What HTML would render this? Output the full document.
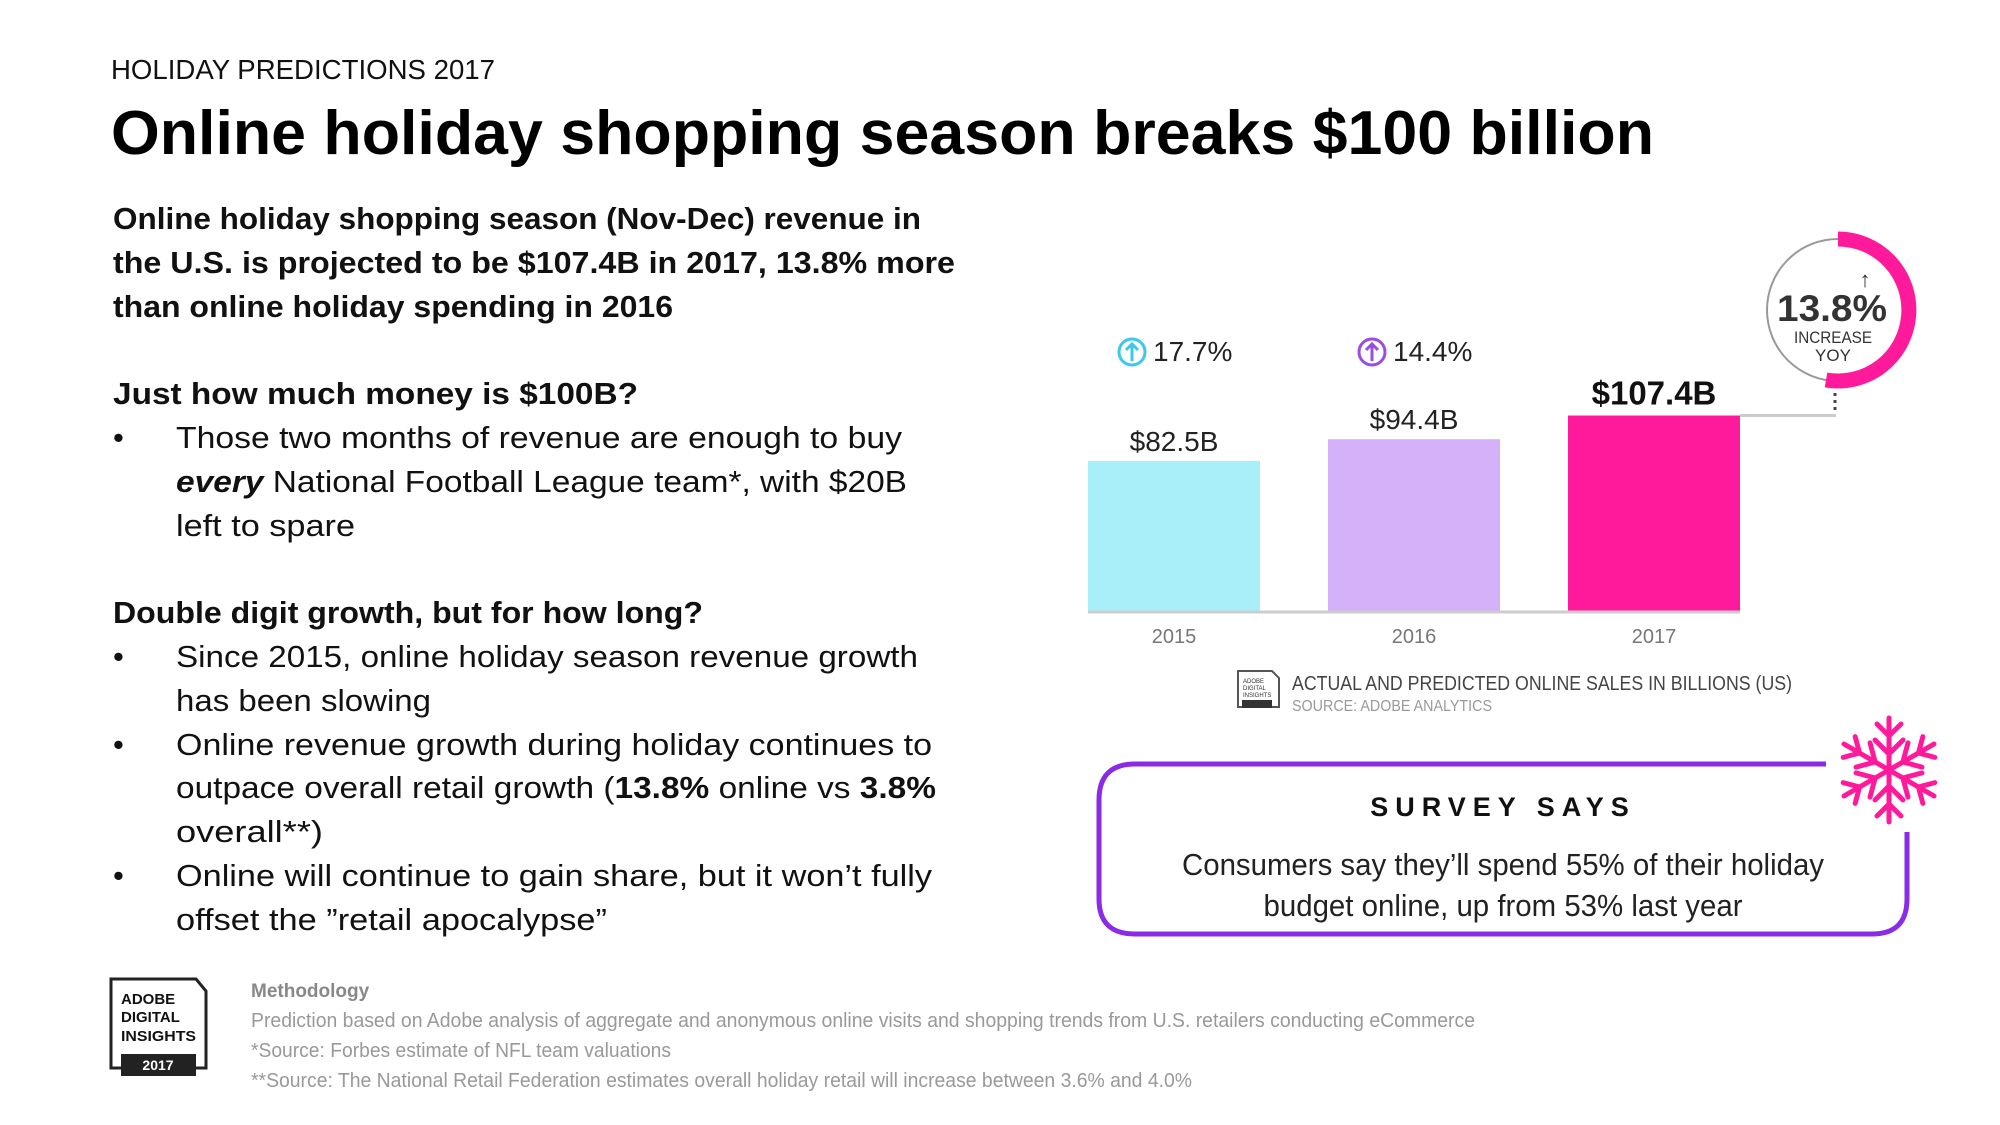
<!DOCTYPE html>
<html><head><meta charset="utf-8"><style>
html,body{margin:0;padding:0;background:#fff;}
svg{display:block;}
text{font-family:"Liberation Sans",sans-serif;}
</style></head><body>
<svg id="page" width="2000" height="1125" viewBox="0 0 2000 1125" xmlns="http://www.w3.org/2000/svg">
<rect width="2000" height="1125" fill="#fff"/>
<text x="111" y="79" font-size="28" fill="#111" textLength="384" lengthAdjust="spacingAndGlyphs">HOLIDAY PREDICTIONS 2017</text>
<text x="111" y="154" font-size="62" font-weight="bold" fill="#000" textLength="1543" lengthAdjust="spacingAndGlyphs">Online holiday shopping season breaks $100 billion</text>

<g font-size="31" fill="#111">
<text x="113" y="229" font-weight="bold" textLength="808" lengthAdjust="spacingAndGlyphs">Online holiday shopping season (Nov-Dec) revenue in</text>
<text x="113" y="273" font-weight="bold" textLength="842" lengthAdjust="spacingAndGlyphs">the U.S. is projected to be $107.4B in 2017, 13.8% more</text>
<text x="113" y="317" font-weight="bold" textLength="560" lengthAdjust="spacingAndGlyphs">than online holiday spending in 2016</text>
<text x="113" y="404" font-weight="bold" textLength="525" lengthAdjust="spacingAndGlyphs">Just how much money is $100B?</text>
<text x="113" y="448">•</text>
<text x="176" y="448" textLength="726" lengthAdjust="spacingAndGlyphs">Those two months of revenue are enough to buy</text>
<text x="176" y="492" textLength="731" lengthAdjust="spacingAndGlyphs"><tspan font-weight="bold" font-style="italic">every</tspan> National Football League team*, with $20B</text>
<text x="176" y="536" textLength="179" lengthAdjust="spacingAndGlyphs">left to spare</text>
<text x="113" y="623" font-weight="bold" textLength="590" lengthAdjust="spacingAndGlyphs">Double digit growth, but for how long?</text>
<text x="113" y="667">•</text>
<text x="176" y="667" textLength="742" lengthAdjust="spacingAndGlyphs">Since 2015, online holiday season revenue growth</text>
<text x="176" y="711" textLength="255" lengthAdjust="spacingAndGlyphs">has been slowing</text>
<text x="113" y="755">•</text>
<text x="176" y="755" textLength="756" lengthAdjust="spacingAndGlyphs">Online revenue growth during holiday continues to</text>
<text x="176" y="798" textLength="760" lengthAdjust="spacingAndGlyphs">outpace overall retail growth (<tspan font-weight="bold">13.8%</tspan> online vs <tspan font-weight="bold">3.8%</tspan></text>
<text x="176" y="842" textLength="147" lengthAdjust="spacingAndGlyphs">overall**)</text>
<text x="113" y="886">•</text>
<text x="176" y="886" textLength="756" lengthAdjust="spacingAndGlyphs">Online will continue to gain share, but it won’t fully</text>
<text x="176" y="930" textLength="431" lengthAdjust="spacingAndGlyphs">offset the ”retail apocalypse”</text>
</g>

<g id="chart"></g>

<!-- donut -->
<g>
<circle cx="1838" cy="310" r="71" fill="none" stroke="#999" stroke-width="2"/>
<path d="M1838 239 A71 71 0 1 1 1826 380" fill="none" stroke="#ff1a9c" stroke-width="15" transform="translate(0,0)"/>
<text x="1865" y="287" font-size="22" text-anchor="middle" fill="#333">↑</text>
<text x="1832" y="321" font-size="37" font-weight="bold" text-anchor="middle" fill="#333" textLength="110" lengthAdjust="spacingAndGlyphs">13.8%</text>
<text x="1833" y="343" font-size="17" text-anchor="middle" fill="#333" textLength="78" lengthAdjust="spacingAndGlyphs">INCREASE</text>
<text x="1833" y="361" font-size="17" text-anchor="middle" fill="#333">YOY</text>
<line x1="1835" y1="393" x2="1835" y2="413" stroke="#444" stroke-width="3" stroke-dasharray="3,4"/>
</g>

<g>
<path d="M1238 671 H1272 L1279 678 V707 H1238 Z" fill="#fff" stroke="#555" stroke-width="2"/>
<rect x="1242" y="700" width="30" height="8" fill="#333"/>
<text x="1243" y="683" font-size="6" fill="#333">ADOBE</text>
<text x="1243" y="690" font-size="6" fill="#333">DIGITAL</text>
<text x="1243" y="697" font-size="6" fill="#333">INSIGHTS</text>
<text x="1292" y="690" font-size="20" fill="#444" textLength="500" lengthAdjust="spacingAndGlyphs">ACTUAL AND PREDICTED ONLINE SALES IN BILLIONS (US)</text>
<text x="1292" y="711" font-size="16" fill="#999" textLength="200" lengthAdjust="spacingAndGlyphs">SOURCE: ADOBE ANALYTICS</text>
</g>

<g>
<path d="M1826 764 H1135 Q1099 764 1099 800 V899 Q1099 934 1135 934 H1872 Q1907 934 1907 899 V832" fill="none" stroke="#8a2be8" stroke-width="5"/>
<text x="1503" y="816" font-size="27" font-weight="bold" text-anchor="middle" fill="#111" letter-spacing="7">SURVEY SAYS</text>
<text x="1503" y="875" font-size="31" text-anchor="middle" fill="#222" textLength="642" lengthAdjust="spacingAndGlyphs">Consumers say they’ll spend 55% of their holiday</text>
<text x="1503" y="916" font-size="31" text-anchor="middle" fill="#222" textLength="479" lengthAdjust="spacingAndGlyphs">budget online, up from 53% last year</text>
</g>
<g stroke="#ff1a9c" stroke-width="5" fill="none" stroke-linecap="round">
<g transform="translate(1889,770)">
<g id="arm"><line x1="0" y1="0" x2="0" y2="-52"/><polyline points="-12,-46 0,-34 12,-46"/><polyline points="-14,-30 0,-16 14,-30"/></g>
<use href="#arm" transform="rotate(60)"/><use href="#arm" transform="rotate(120)"/><use href="#arm" transform="rotate(180)"/><use href="#arm" transform="rotate(240)"/><use href="#arm" transform="rotate(300)"/>
</g></g>

<g>
<path d="M111 979 H196 L206 991 V1068 H111 Z" fill="#fff" stroke="#222" stroke-width="3"/>
<rect x="121" y="1054" width="75" height="22" fill="#222"/>
<text x="121" y="1004" font-size="15" font-weight="bold" fill="#111">ADOBE</text>
<text x="121" y="1022" font-size="15" font-weight="bold" fill="#111">DIGITAL</text>
<text x="121" y="1041" font-size="15" font-weight="bold" fill="#111" textLength="75" lengthAdjust="spacingAndGlyphs">INSIGHTS</text>
<text x="158" y="1070" font-size="14" font-weight="bold" fill="#fff" text-anchor="middle">2017</text>
</g>
<g fill="#999" font-size="20">
<text x="251" y="997" font-size="19" font-weight="bold" fill="#888">Methodology</text>
<text x="251" y="1027" textLength="1224" lengthAdjust="spacingAndGlyphs">Prediction based on Adobe analysis of aggregate and anonymous online visits and shopping trends from U.S. retailers conducting eCommerce</text>
<text x="251" y="1057" textLength="420" lengthAdjust="spacingAndGlyphs">*Source: Forbes estimate of NFL team valuations</text>
<text x="251" y="1087" textLength="941" lengthAdjust="spacingAndGlyphs">**Source: The National Retail Federation estimates overall holiday retail will increase between 3.6% and 4.0%</text>
</g>
</svg>
<script>
const categories = ["2015", "2016", "2017"];
const revenue = [82.5, 94.4, 107.4];
const valueLabels = ["$82.5B", "$94.4B", "$107.4B"];
const growthLabels = ["17.7%", "14.4%", null];
const barColors = ["#a9effa", "#d4b1f9", "#ff1a9c"];
const growthColors = ["#3cc8e8", "#9b4de0", null];

const NS = "http://www.w3.org/2000/svg";
const g = document.getElementById("chart");
const baseY = 611, pxPerB = 1.82, x0 = 1088, step = 240, barW = 172;
function xPos(i){ return x0 + i*step; }
function yPos(v){ return baseY - v*pxPerB; }
function mk(tag, attrs){ const e = document.createElementNS(NS, tag); for (const k in attrs) e.setAttribute(k, attrs[k]); g.appendChild(e); return e; }

categories.forEach((c, i) => {
  const x = xPos(i), y = yPos(revenue[i]), cx = x + barW/2;
  const r = mk("rect", {x: x, y: y, width: barW, height: baseY - y, fill: barColors[i]});
  
  
  const last = i === categories.length - 1;
  const vl = mk("text", {x: cx, y: y - (last ? 11 : 10), "text-anchor": "middle", "font-size": last ? 33 : 28, "font-weight": last ? "bold" : "normal", fill: last ? "#111" : "#222"});
  vl.textContent = valueLabels[i];
  
  
  const xl = mk("text", {x: cx, y: baseY + 32, "text-anchor": "middle", "font-size": 20, fill: "#777"});
  xl.textContent = c;
  
  
  if (growthLabels[i]) {
    const gx = x + 44;
    const ci = mk("circle", {cx: gx, cy: 352, r: 13, fill: "none", stroke: growthColors[i], "stroke-width": 3});
    
    
    const ar = mk("path", {d: `M${gx} 361 V344 M${gx-6} 350 L${gx} 344 L${gx+6} 350`, fill: "none", stroke: growthColors[i], "stroke-width": 3});
    
    
    const gt = mk("text", {x: gx + 21, y: 361, "font-size": 28, fill: "#222"});
    gt.textContent = growthLabels[i];
    
    
  }
});
const axis = mk("line", {x1: xPos(0), x2: xPos(categories.length-1) + barW, y1: baseY + 1, y2: baseY + 1, stroke: "#ccc", "stroke-width": 3});


const lastTop = yPos(revenue[revenue.length-1]);
const conn = mk("line", {x1: xPos(categories.length-1) + barW, x2: 1836, y1: lastTop, y2: lastTop, stroke: "#ccc", "stroke-width": 3});


</script>
</body></html>
